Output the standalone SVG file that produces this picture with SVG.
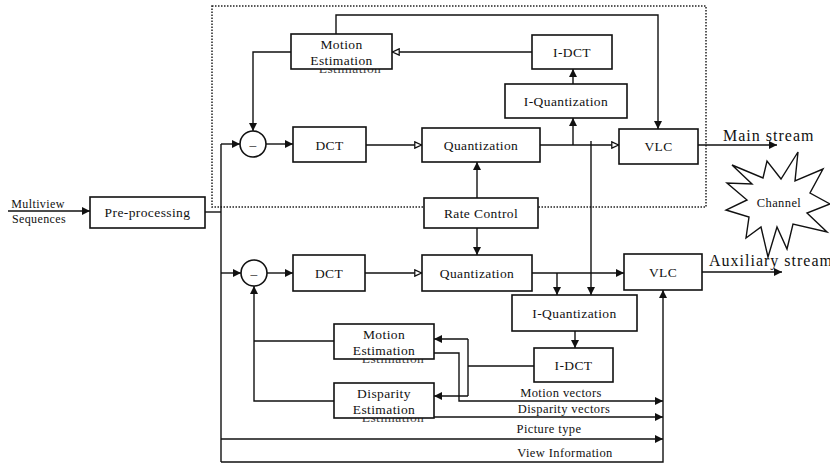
<svg xmlns="http://www.w3.org/2000/svg" width="830" height="465" viewBox="0 0 830 465">
  <style>
    .box { fill: #fff; stroke: #111; stroke-width: 1.6; }
    .ln { fill: none; stroke: #111; stroke-width: 1.4; }
    .t { font-family: "Liberation Serif", "Times New Roman", serif; font-size: 13.5px; fill: #111; text-anchor: middle; letter-spacing: 0.4px; }
    .s { font-family: "Liberation Serif", "Times New Roman", serif; font-size: 12.5px; fill: #111; text-anchor: middle; letter-spacing: 0.4px; }
    .big { font-family: "Liberation Serif", "Times New Roman", serif; font-size: 16px; fill: #111; letter-spacing: 1px; }
    .ghost { font-family: "Liberation Serif", "Times New Roman", serif; font-size: 13.5px; fill: #444; text-anchor: middle; letter-spacing: 0.4px; }
  </style>
  <defs>
    <marker id="arr" viewBox="0 0 10 10" refX="10" refY="5" markerWidth="9" markerHeight="8" markerUnits="userSpaceOnUse" orient="auto">
      <path d="M0,0 L10,5 L0,10 z" fill="#111"/>
    </marker>
    <marker id="arrO" viewBox="0 0 10 10" refX="10" refY="5" markerWidth="9" markerHeight="8" markerUnits="userSpaceOnUse" orient="auto">
      <path d="M1,1 L9.5,5 L1,9 z" fill="#fff" stroke="#111" stroke-width="1.6"/>
    </marker>
  </defs>

  <!-- encoder enclosure for the main view -->
  <rect x="212" y="6" width="494" height="201" fill="none" stroke="#222" stroke-width="1.5" stroke-dasharray="1.5 1.5"/>

  <g id="connectors">
    <!-- input and distribution trunk -->
    <path class="ln" d="M8,211 H90" marker-end="url(#arr)"/>
    <path class="ln" d="M205,212 H221"/>
    <path class="ln" d="M221,144 V462"/>
    <path class="ln" d="M221,144 H240" marker-end="url(#arr)"/>
    <path class="ln" d="M221,273 H241" marker-end="url(#arr)"/>

    <!-- main view loop -->
    <path class="ln" d="M266,144 H293" marker-end="url(#arr)"/>
    <path class="ln" d="M366,145 H422" marker-end="url(#arrO)"/>
    <path class="ln" d="M540,145 H619" marker-end="url(#arrO)"/>
    <path class="ln" d="M573,145 V118" marker-end="url(#arr)"/>
    <path class="ln" d="M573,84 V69" marker-end="url(#arr)"/>
    <path class="ln" d="M532,52 H392" marker-end="url(#arrO)"/>
    <path class="ln" d="M291,52 H253 V131" marker-end="url(#arr)"/>
    <path class="ln" d="M336,34 V15 H658 V129" marker-end="url(#arr)"/>
    <path class="ln" d="M698,145 H777" marker-end="url(#arr)"/>

    <!-- rate control -->
    <path class="ln" d="M477,198 V162" marker-end="url(#arr)"/>
    <path class="ln" d="M477,228 V255" marker-end="url(#arr)"/>

    <!-- main quantized data to auxiliary reconstruction -->
    <path class="ln" d="M591,141 V295" marker-end="url(#arr)"/>

    <!-- auxiliary view loop -->
    <path class="ln" d="M267,273 H293" marker-end="url(#arr)"/>
    <path class="ln" d="M365,273 H422" marker-end="url(#arrO)"/>
    <path class="ln" d="M532,273 H624" marker-end="url(#arr)"/>
    <path class="ln" d="M557,273 V295" marker-end="url(#arr)"/>
    <path class="ln" d="M575,331 V348" marker-end="url(#arr)"/>
    <path class="ln" d="M534,366 H468"/>
    <path class="ln" d="M468,339 V396"/>
    <path class="ln" d="M468,339 H434" marker-end="url(#arr)"/>
    <path class="ln" d="M468,396 H434" marker-end="url(#arr)"/>
    <path class="ln" d="M334,341 H254"/>
    <path class="ln" d="M334,401 H254 V286" marker-end="url(#arr)"/>
    <path class="ln" d="M702,272 H782" marker-end="url(#arr)"/>

    <!-- side information into the auxiliary VLC -->
    <path class="ln" d="M434,353 H459 V401 H663" marker-end="url(#arr)"/>
    <path class="ln" d="M434,417 H663" marker-end="url(#arr)"/>
    <path class="ln" d="M221,439 H663" marker-end="url(#arr)"/>
    <path class="ln" d="M221,462 H663 V290" marker-end="url(#arr)"/>
  </g>

  <!-- input label -->
  <g id="input">
    <text class="s" x="38" y="208" style="font-size:12px">Multiview</text>
    <text class="s" x="39" y="223" style="font-size:12px">Sequences</text>
  </g>

  <g id="preprocessing">
    <rect class="box" x="90" y="197" width="115" height="31"/>
    <text class="t" x="147.5" y="217">Pre-processing</text>
  </g>

  <!-- main view encoder -->
  <g id="sum-main">
    <circle cx="253" cy="144" r="13" fill="#fff" stroke="#111" stroke-width="1.6"/>
    <text class="t" x="253" y="149">–</text>
  </g>
  <g id="dct-main">
    <rect class="box" x="293" y="127" width="73" height="35"/>
    <text class="t" x="329.5" y="150">DCT</text>
  </g>
  <g id="quant-main">
    <rect class="box" x="422" y="128" width="118" height="34"/>
    <text class="t" x="481" y="150">Quantization</text>
  </g>
  <g id="vlc-main">
    <rect class="box" x="619" y="129" width="79" height="35"/>
    <text class="t" x="658.5" y="151">VLC</text>
  </g>
  <g id="iquant-main">
    <rect class="box" x="505" y="84" width="122" height="34"/>
    <text class="t" x="566" y="106">I-Quantization</text>
  </g>
  <g id="idct-main">
    <rect class="box" x="532" y="35" width="80" height="34"/>
    <text class="t" x="572" y="57">I-DCT</text>
  </g>
  <g id="me-main">
    <text class="ghost" x="350" y="72.5">Estimation</text>
    <rect class="box" x="291" y="34" width="101" height="35"/>
    <text class="t" x="341.5" y="49">Motion</text>
    <text class="t" x="341.5" y="65">Estimation</text>
  </g>
  <g id="rate-control">
    <rect class="box" x="424" y="198" width="114" height="30"/>
    <text class="t" x="481" y="218">Rate Control</text>
  </g>

  <!-- auxiliary view encoder -->
  <g id="sum-aux">
    <circle cx="254" cy="273" r="13" fill="#fff" stroke="#111" stroke-width="1.6"/>
    <text class="t" x="254" y="278">–</text>
  </g>
  <g id="dct-aux">
    <rect class="box" x="293" y="255" width="72" height="36"/>
    <text class="t" x="329" y="278">DCT</text>
  </g>
  <g id="quant-aux">
    <rect class="box" x="422" y="255" width="110" height="36"/>
    <text class="t" x="477" y="278">Quantization</text>
  </g>
  <g id="vlc-aux">
    <rect class="box" x="624" y="254" width="78" height="36"/>
    <text class="t" x="663" y="277">VLC</text>
  </g>
  <g id="iquant-aux">
    <rect class="box" x="512" y="295" width="125" height="36"/>
    <text class="t" x="574.5" y="318">I-Quantization</text>
  </g>
  <g id="idct-aux">
    <rect class="box" x="534" y="348" width="79" height="34"/>
    <text class="t" x="573.5" y="370">I-DCT</text>
  </g>
  <g id="me-aux">
    <text class="ghost" x="393" y="362.5">Estimation</text>
    <rect class="box" x="334" y="324" width="100" height="35"/>
    <text class="t" x="384" y="339">Motion</text>
    <text class="t" x="384" y="355">Estimation</text>
  </g>
  <g id="de-aux">
    <text class="ghost" x="393" y="421.5">Estimation</text>
    <rect class="box" x="334" y="383" width="100" height="35"/>
    <text class="t" x="384" y="398">Disparity</text>
    <text class="t" x="384" y="414">Estimation</text>
  </g>

  <!-- connector labels -->
  <g id="labels">
    <text class="s" x="561" y="397">Motion vectors</text>
    <text class="s" x="564" y="413">Disparity vectors</text>
    <text class="s" x="549" y="433">Picture type</text>
    <text class="s" x="565" y="457">View Information</text>
    <text class="big" x="723" y="141">Main stream</text>
    <text class="big" x="709" y="266">Auxiliary stream</text>
  </g>

  <g id="channel">
    <polygon points="798,152 795,181 823,169 810,193 830,204 807,213 827,232 793,224 787,249 777,227 768,257 761,227 746,238 749,217 726,210 747,200 727,183 752,184 732,165 763,178 767,161 781,179" fill="#fff" stroke="#111" stroke-width="1.4"/>
    <text class="s" x="779" y="207" style="font-size:12.5px">Channel</text>
  </g>
</svg>
